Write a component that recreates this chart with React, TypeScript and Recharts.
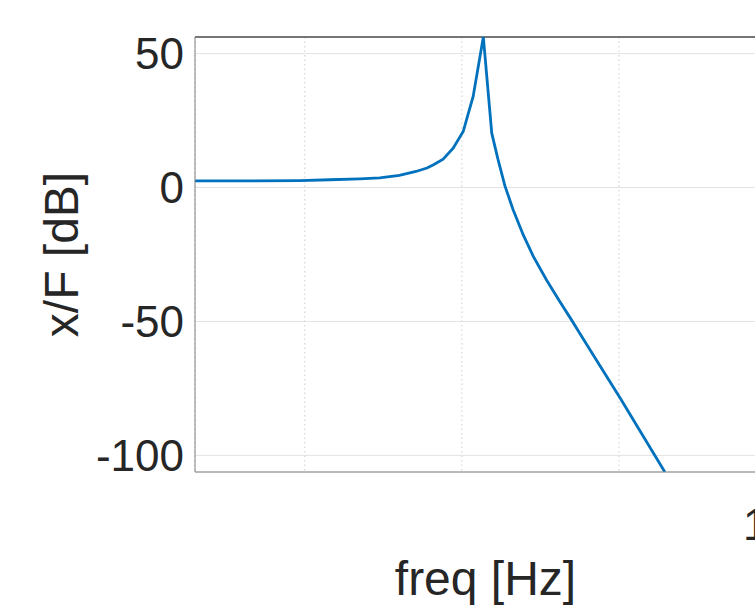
import { LineChart, Line, XAxis, YAxis, CartesianGrid, ReferenceLine } from 'recharts';

// frequency response (log freq axis)
const freqHz = [
  0.02, 0.045, 0.093, 0.144, 0.224, 0.3, 0.4, 0.51, 0.6, 0.66, 0.76, 0.88,
  1.02, 1.18, 1.37, 1.55, 1.7, 1.88, 2.12, 2.46, 2.85, 3.46, 4.21,
  5.0, 5.64, 7.57, 10.2, 13.6, 19.6,
];
const magDb = [
  2.5, 2.5, 2.6, 2.9, 3.25, 3.6, 4.5, 6.0, 7.3, 8.5, 10.6, 14.7,
  20.9, 34.0, 56.2, 20.3, 10.4, 0.6, -8.3, -17.7, -25.7, -34.5, -42.6,
  -49.5, -54.5, -66.5, -78.7, -90.8, -106.2,
];

const xTicks = [0.1, 1, 10, 100];
const yTicks = [-100, -50, 0, 50];
const xDomain = [0.02, 100];
const yDomain = [-106.2, 56.2];

const data = freqHz.map((f, i) => ({ f, db: magDb[i] }));

const FONT = '"Liberation Sans", Arial, Helvetica, sans-serif';
const INK = '#262626';

// only the decade at the right edge carries a label, matlab style 10^2
function FreqTick(props: any) {
  const { x, y, payload } = props;
  if (payload.value !== 100) return <g />;
  return (
    <text x={x - 33} y={y + 68} textAnchor="start" fontFamily={FONT} fontSize={44} fill={INK}>
      10<tspan dy={-20} fontSize={31}>2</tspan>
    </text>
  );
}

export default function App() {
  return (
    <div style={{ position: 'fixed', left: 0, top: 0, width: 755, height: 613, overflow: 'hidden', background: '#fff' }}>
      <LineChart
        width={838}
        height={613}
        data={data}
        margin={{ top: 37, right: 62, bottom: 0, left: 0 }}
      >
        <CartesianGrid vertical={false} stroke="#e3e3e3" />
        <CartesianGrid horizontal={false} stroke="#cfcfcf" strokeDasharray="1.5 3" />
        <XAxis
          dataKey="f"
          type="number"
          scale="log"
          domain={xDomain}
          ticks={xTicks}
          allowDataOverflow
          height={141}
          tickSize={0}
          tickMargin={0}
          tickLine={false}
          axisLine={{ stroke: '#808080' }}
          tick={<FreqTick />}
          label={{
            content: (p: any) => {
              const vb = p.viewBox;
              return (
                <text
                  x={vb.x + vb.width / 2}
                  y={595}
                  textAnchor="middle"
                  fontFamily={FONT}
                  fontSize={48}
                  fill={INK}
                >
                  freq [Hz]
                </text>
              );
            },
          }}
        />
        {/* inward minor ticks on the bottom edge */}
        <XAxis
          xAxisId="inner"
          dataKey="f"
          type="number"
          scale="log"
          domain={xDomain}
          ticks={[0.1, 1, 10]}
          allowDataOverflow
          mirror
          height={0}
          tick={false}
          tickSize={4}
          tickLine={{ stroke: '#555' }}
          axisLine={false}
        />
        <YAxis
          type="number"
          domain={yDomain}
          ticks={yTicks}
          allowDataOverflow
          width={195}
          tickSize={0}
          tickMargin={11}
          tickLine={false}
          axisLine={{ stroke: '#808080' }}
          tick={{ fontFamily: FONT, fontSize: 44, fill: INK }}
          label={{
            content: (p: any) => {
              const vb = p.viewBox;
              const cy = vb.y + vb.height / 2;
              return (
                <text
                  x={78}
                  y={cy}
                  transform={`rotate(-90, 78, ${cy})`}
                  textAnchor="middle"
                  fontFamily={FONT}
                  fontSize={48}
                  fill={INK}
                >
                  x/F [dB]
                </text>
              );
            },
          }}
        />
        <YAxis
          yAxisId="inner"
          type="number"
          domain={yDomain}
          ticks={yTicks}
          allowDataOverflow
          mirror
          width={0}
          tick={false}
          tickSize={5}
          tickLine={{ stroke: '#555' }}
          axisLine={false}
        />
        {/* top edge of the axes box */}
        <ReferenceLine y={yDomain[1]} stroke="#4d4d4d" strokeWidth={1.3} ifOverflow="visible" />
        <Line
          type="linear"
          dataKey="db"
          stroke="#0072BD"
          strokeWidth={2.8}
          dot={false}
          isAnimationActive={false}
        />
      </LineChart>
    </div>
  );
}
